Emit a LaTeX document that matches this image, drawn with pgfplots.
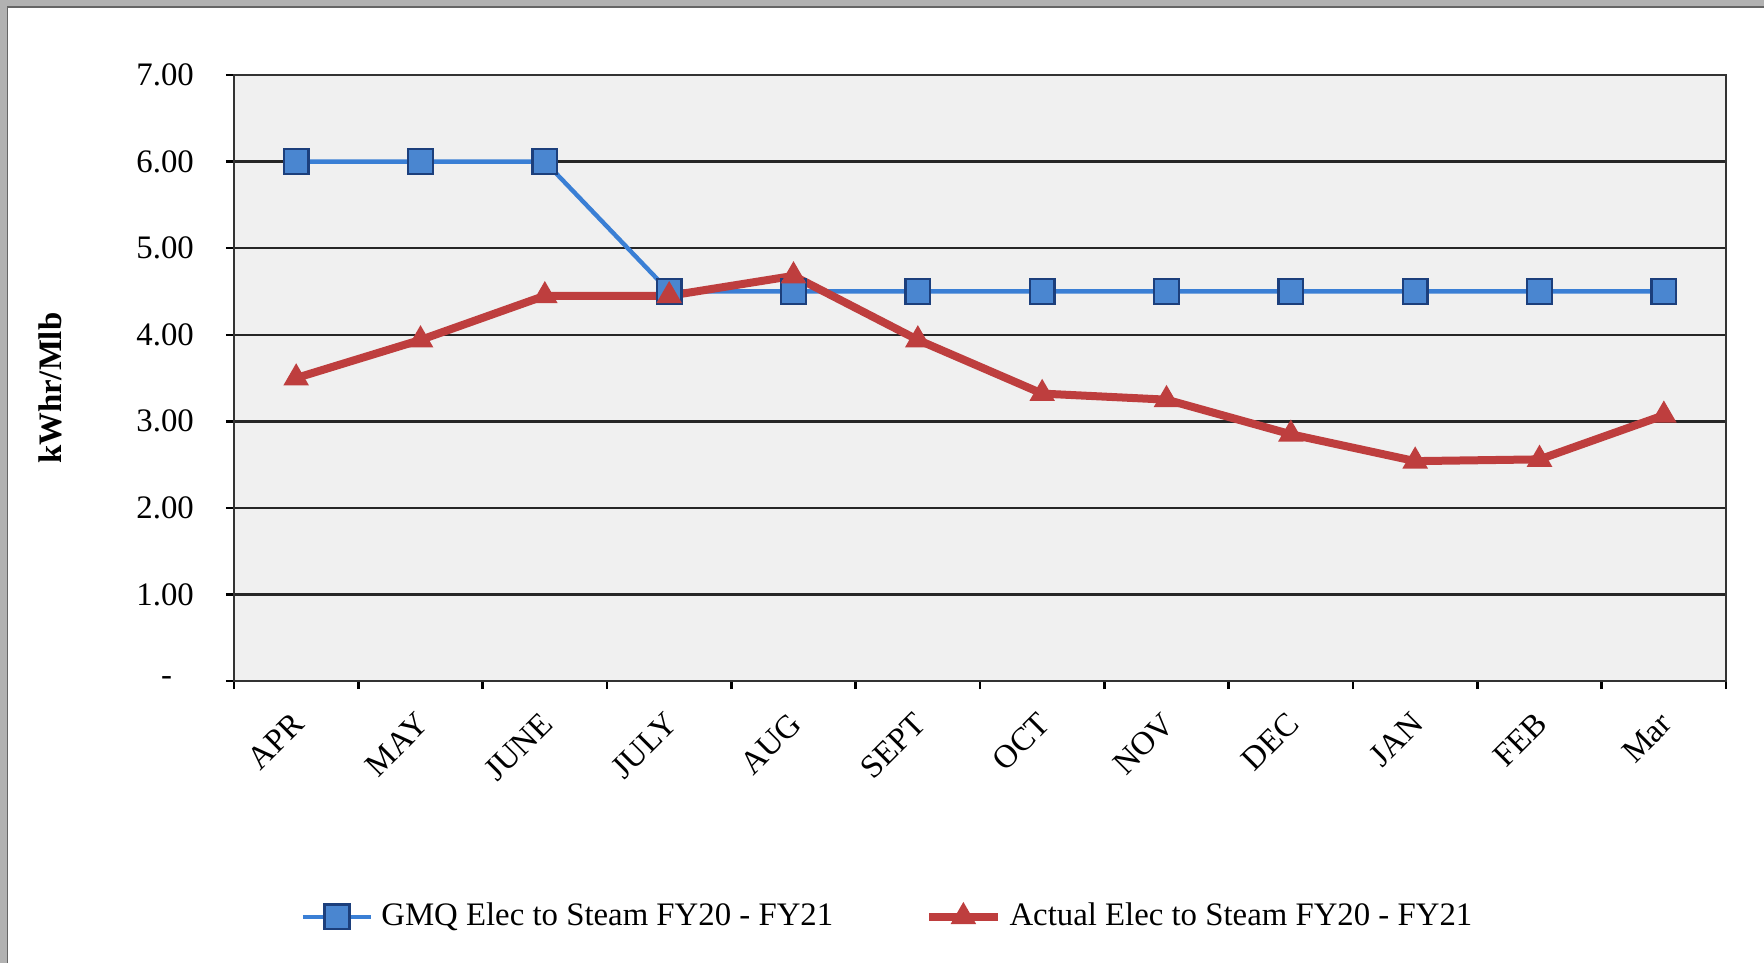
\documentclass[border=0pt]{standalone}
\usepackage{pgfplots}
\pgfplotsset{compat=1.18}
\usepackage{fontspec}
\setmainfont{Liberation Serif}
\definecolor{gmqline}{RGB}{58,127,213}
\definecolor{gmqfill}{RGB}{74,134,208}
\definecolor{gmqedge}{RGB}{28,63,124}
\definecolor{actred}{RGB}{190,62,62}
\definecolor{plotbg}{RGB}{240,240,240}
\definecolor{framegray}{RGB}{178,178,178}
\begin{document}
\begin{tikzpicture}
\useasboundingbox (-58.5pt,-70.5pt) rectangle (382.5pt,170.25pt);
\fill[framegray] (-58.5pt,-70.5pt) rectangle (382.5pt,170.25pt);
\fill[white] (-56.6pt,-70.5pt) rectangle (382.5pt,168.5pt);
\draw[black!60, line width=0.4pt] (-56.6pt,-70.5pt) -- (-56.6pt,168.5pt) -- (382.5pt,168.5pt);
\begin{axis}[
  at={(0pt,0pt)}, anchor=south west,
  scale only axis, width=373pt, height=151.5pt,
  xmin=-0.5, xmax=11.5, ymin=0, ymax=7,
  axis background/.style={fill=plotbg},
  axis line style={black!80, line width=0.7pt},
  ytick={0,1,2,3,4,5,6,7},
  yticklabels={{-\hphantom{0}\,},1.00,2.00,3.00,4.00,5.00,6.00,7.00},
  minor ytick={0,1,2,3,4,5,6,7},
  ymajorgrids, grid style={black!85, line width=0.6pt},
  tick align=outside, major tick length=0pt, minor tick length=2pt, tick pos=left,
  tick style={black, line width=0.6pt},
  xtick={0,1,2,3,4,5,6,7,8,9,10,11},
  xticklabels={APR,MAY,JUNE,JULY,AUG,SEPT,OCT,NOV,DEC,JAN,FEB,Mar},
  minor xtick={-0.5,0.5,...,11.5},
  xticklabel style={rotate=45, anchor=north east, yshift=-0.8pt, xshift=-2.7pt},
  ticklabel style={font=\fontsize{8.2}{10}\selectfont},
  yticklabel style={xshift=-6.5pt},
  ylabel={\textbf{kWhr/Mlb}},
  ylabel style={at={(axis description cs:-0.123,0.483)}, anchor=center, font=\fontsize{8.2}{10}\selectfont},
  legend columns=2,
  legend style={at={(axis description cs:0.44,-0.389)}, anchor=center, draw=none, fill=none,
    font=\fontsize{8.2}{10}\selectfont,
    /tikz/every even column/.append style={column sep=21pt}},
  legend cell align=left,
]
\addplot[gmqline, line width=1.1pt, mark=square*, mark size=3.1pt,
  mark options={fill=gmqfill, draw=gmqedge, line width=0.6pt}]
  coordinates {(0,6.00) (1,6.00) (2,6.00) (3,4.50) (4,4.50) (5,4.50) (6,4.50) (7,4.50) (8,4.50) (9,4.50) (10,4.50) (11,4.50)};
\addlegendentry{GMQ Elec to Steam FY20 - FY21}
\addplot[actred, line width=2pt, mark=triangle*, mark size=3.3pt,
  mark options={fill=actred, draw=actred, line width=0.4pt}]
  coordinates {(0,3.50) (1,3.94) (2,4.45) (3,4.45) (4,4.68) (5,3.94) (6,3.32) (7,3.25) (8,2.85) (9,2.54) (10,2.56) (11,3.07)};
\addlegendentry{Actual Elec to Steam FY20 - FY21}
\end{axis}
\end{tikzpicture}
\end{document}
